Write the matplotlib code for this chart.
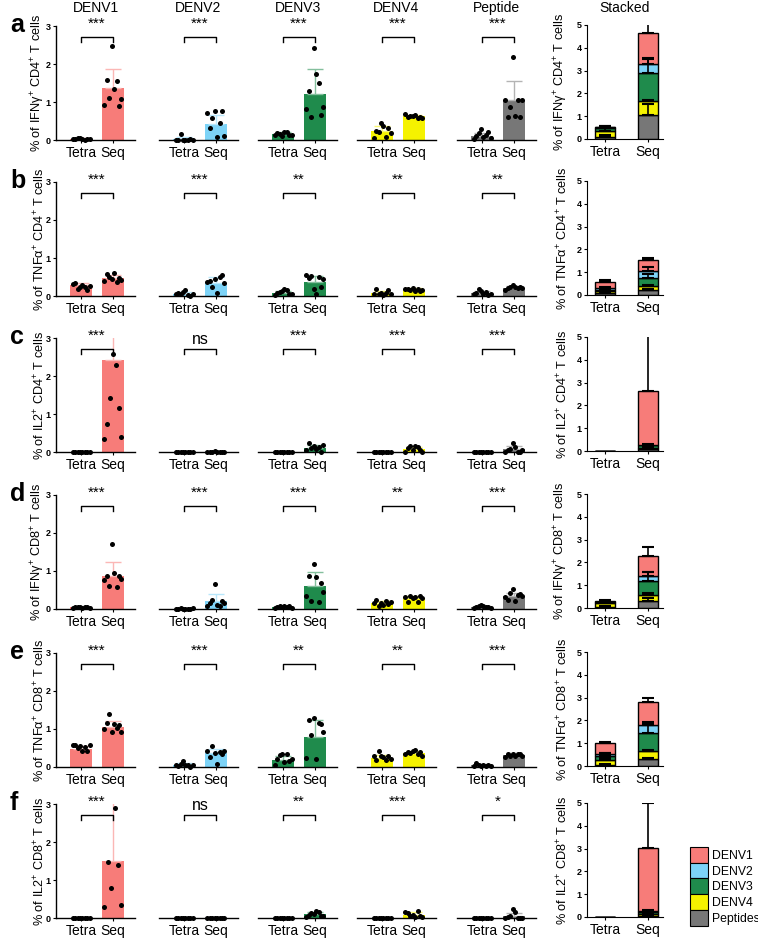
import numpy as np
import matplotlib.pyplot as plt
import matplotlib.colors as mcolors
from matplotlib.patches import Patch

plt.rcParams['font.family'] = ['Liberation Sans', 'DejaVu Sans']
plt.rcParams['mathtext.fontset'] = 'custom'
plt.rcParams['mathtext.rm'] = 'Liberation Sans'
plt.rcParams['mathtext.it'] = 'Liberation Sans:italic'

groups = ['DENV1', 'DENV2', 'DENV3', 'DENV4', 'Peptide']
legend_labels = ['DENV1', 'DENV2', 'DENV3', 'DENV4', 'Peptides']
conds = ['Tetra', 'Seq']
colors = ['#f77c79', '#7dd3f7', '#1f8b4c', '#f5f200', '#777777']

row_letters = ['a', 'b', 'c', 'd', 'e', 'f']
ylabels = [
    '% of IFNγ$^{+}$ CD4$^{+}$ T cells',
    '% of TNFα$^{+}$ CD4$^{+}$ T cells',
    '% of IL2$^{+}$ CD4$^{+}$ T cells',
    '% of IFNγ$^{+}$ CD8$^{+}$ T cells',
    '% of TNFα$^{+}$ CD8$^{+}$ T cells',
    '% of IL2$^{+}$ CD8$^{+}$ T cells',
]
sig = [
    ['***', '***', '***', '***', '***'],
    ['***', '***', '**', '**', '**'],
    ['***', 'ns', '***', '***', '***'],
    ['***', '***', '***', '**', '***'],
    ['***', '***', '**', '**', '***'],
    ['***', 'ns', '**', '***', '*'],
]

# bar means / SD per row, group order DENV1..Peptide
tetra_mean = [
    [0.02, 0.03, 0.15, 0.24, 0.10],
    [0.28, 0.06, 0.08, 0.08, 0.08],
    [0.0, 0.0, 0.0, 0.0, 0.0],
    [0.04, 0.01, 0.05, 0.16, 0.05],
    [0.47, 0.06, 0.18, 0.24, 0.04],
    [0.0, 0.01, 0.0, 0.0, 0.0],
]
tetra_sd = [
    [0.02, 0.05, 0.05, 0.14, 0.09],
    [0.06, 0.05, 0.06, 0.06, 0.06],
    [0.0, 0.0, 0.0, 0.0, 0.0],
    [0.02, 0.01, 0.03, 0.05, 0.03],
    [0.07, 0.04, 0.12, 0.08, 0.03],
    [0.0, 0.005, 0.0, 0.0, 0.0],
]
seq_mean = [
    [1.36, 0.42, 1.21, 0.62, 1.05],
    [0.47, 0.34, 0.36, 0.16, 0.22],
    [2.43, 0.01, 0.11, 0.07, 0.07],
    [0.88, 0.21, 0.61, 0.28, 0.33],
    [1.05, 0.36, 0.80, 0.37, 0.31],
    [1.49, 0.01, 0.10, 0.08, 0.06],
]
seq_sd = [
    [0.51, 0.24, 0.65, 0.05, 0.50],
    [0.08, 0.15, 0.17, 0.04, 0.05],
    [3.40, 0.005, 0.07, 0.06, 0.08],
    [0.37, 0.18, 0.36, 0.06, 0.10],
    [0.17, 0.11, 0.44, 0.05, 0.05],
    [2.00, 0.005, 0.06, 0.07, 0.08],
]

# stacked panel segment heights (DENV1..Peptide)
stack_tetra = [
    [0.02, 0.03, 0.15, 0.24, 0.10],
    [0.28, 0.06, 0.08, 0.08, 0.08],
    [0.0, 0.0, 0.0, 0.0, 0.0],
    [0.04, 0.01, 0.05, 0.16, 0.05],
    [0.47, 0.06, 0.18, 0.24, 0.04],
    [0.0, 0.0, 0.0, 0.0, 0.0],
]
stack_seq = [
    [1.36, 0.42, 1.21, 0.62, 1.05],
    [0.48, 0.33, 0.36, 0.16, 0.22],
    [2.38, 0.01, 0.11, 0.07, 0.07],
    [0.88, 0.21, 0.62, 0.26, 0.32],
    [1.00, 0.36, 0.80, 0.35, 0.30],
    [2.76, 0.01, 0.10, 0.08, 0.06],
]

# individual points
pts_a_tetra = [[0.03, 0.02, 0.05, 0.04, 0.02, 0.01, 0.02, 0.03],
               [0.0, 0.01, 0.15, 0.01, 0.0, 0.01, 0.02, 0.0],
               [0.12, 0.18, 0.15, 0.10, 0.20, 0.22, 0.14, 0.13],
               [0.04, 0.25, 0.20, 0.44, 0.37, 0.09, 0.31, 0.18],
               [0.02, 0.10, 0.18, 0.28, 0.09, 0.13, 0.22, 0.04]]
pts_a_seq = [[0.92, 1.58, 1.10, 2.47, 1.33, 1.54, 0.90, 1.08],
             [0.70, 0.31, 0.57, 0.76, 0.09, 0.44, 0.76, 0.11],
             [0.81, 1.30, 0.61, 2.41, 1.75, 1.51, 0.66, 0.88],
             [0.68, 0.60, 0.64, 0.62, 0.66, 0.57, 0.60, 0.58],
             [1.04, 0.61, 0.88, 2.18, 0.62, 1.06, 0.60, 1.05]]
pts_b_tetra = [[0.31, 0.33, 0.19, 0.25, 0.28, 0.24, 0.17, 0.26],
               [0.04, 0.08, 0.06, 0.11, 0.17, 0.02, 0.0, 0.04],
               [0.02, 0.08, 0.11, 0.13, 0.19, 0.17, 0.06, 0.04],
               [0.06, 0.19, 0.04, 0.09, 0.02, 0.08, 0.15, 0.04],
               [0.04, 0.08, 0.19, 0.13, 0.06, 0.11, 0.02, 0.04]]
pts_b_seq = [[0.39, 0.57, 0.50, 0.46, 0.61, 0.37, 0.48, 0.41],
             [0.37, 0.39, 0.25, 0.46, 0.09, 0.50, 0.56, 0.34],
             [0.54, 0.48, 0.52, 0.19, 0.06, 0.50, 0.24, 0.46],
             [0.18, 0.19, 0.15, 0.20, 0.13, 0.18, 0.12, 0.16],
             [0.17, 0.21, 0.24, 0.28, 0.25, 0.21, 0.24, 0.22]]
pts_c_tetra = [[0.0] * 8, [0.0] * 8, [0.0] * 8, [0.0] * 8, [0.0] * 8]
pts_c_seq = [[0.33, 0.75, 1.41, 2.57, 2.30, 1.15, 0.40],
             [0.01, 0.0, 0.01, 0.02, 0.01, 0.0, 0.01, 0.0],
             [0.04, 0.25, 0.10, 0.16, 0.07, 0.14, 0.01, 0.18],
             [0.01, 0.10, 0.16, 0.04, 0.16, 0.12, 0.05, 0.01],
             [0.01, 0.04, 0.07, 0.25, 0.14, 0.01, 0.01, 0.04]]
pts_d_tetra = [[0.03, 0.05, 0.04, 0.06, 0.03, 0.04, 0.05, 0.03],
               [0.01, 0.0, 0.02, 0.01, 0.01, 0.0, 0.01, 0.02],
               [0.03, 0.06, 0.08, 0.05, 0.09, 0.04, 0.07, 0.03],
               [0.17, 0.23, 0.07, 0.16, 0.11, 0.20, 0.14, 0.18],
               [0.03, 0.05, 0.07, 0.11, 0.08, 0.04, 0.05, 0.02]]
pts_d_seq = [[0.77, 0.87, 0.60, 1.71, 0.96, 0.58, 0.86, 0.79],
             [0.09, 0.16, 0.23, 0.66, 0.11, 0.07, 0.22, 0.17],
             [0.35, 0.87, 0.20, 1.18, 0.84, 0.18, 0.68, 0.46],
             [0.31, 0.18, 0.33, 0.29, 0.31, 0.18, 0.33, 0.29],
             [0.31, 0.24, 0.42, 0.52, 0.20, 0.38, 0.40, 0.33]]
pts_e_tetra = [[0.59, 0.57, 0.49, 0.56, 0.41, 0.53, 0.41, 0.59],
               [0.04, 0.03, 0.09, 0.15, 0.06, 0.04, 0.0, 0.06],
               [0.04, 0.22, 0.31, 0.33, 0.13, 0.35, 0.15, 0.20],
               [0.30, 0.19, 0.42, 0.28, 0.26, 0.18, 0.30, 0.21],
               [0.02, 0.11, 0.04, 0.02, 0.05, 0.03, 0.04, 0.02]]
pts_e_seq = [[1.01, 1.15, 1.39, 0.93, 1.12, 1.03, 1.10, 0.91],
             [0.41, 0.26, 0.56, 0.38, 0.09, 0.40, 0.35, 0.41],
             [0.24, 1.25, 0.84, 1.28, 0.22, 1.15, 1.12, 0.93],
             [0.33, 0.39, 0.37, 0.42, 0.44, 0.35, 0.39, 0.30],
             [0.26, 0.33, 0.30, 0.35, 0.28, 0.33, 0.35, 0.30]]
pts_f_tetra = [[0.0] * 8,
               [0.01, 0.0, 0.01, 0.01, 0.0, 0.01, 0.01, 0.0],
               [0.0] * 8, [0.0] * 8, [0.0] * 8]
pts_f_seq = [[0.30, 1.47, 0.79, 2.89, 1.40, 0.35],
             [0.01, 0.0, 0.01, 0.0, 0.01, 0.01, 0.0, 0.01],
             [0.02, 0.08, 0.12, 0.10, 0.19, 0.15, 0.04, 0.06],
             [0.15, 0.13, 0.04, 0.08, 0.02, 0.19, 0.06, 0.02],
             [0.0, 0.02, 0.06, 0.24, 0.15, 0.0, 0.01, 0.0]]

pts_tetra = [pts_a_tetra, pts_b_tetra, pts_c_tetra, pts_d_tetra, pts_e_tetra, pts_f_tetra]
pts_seq = [pts_a_seq, pts_b_seq, pts_c_seq, pts_d_seq, pts_e_seq, pts_f_seq]

W, H = 758, 939
fig = plt.figure(figsize=(W / 100, H / 100), dpi=100)


def px_axes(left, top, width, height):
    return fig.add_axes([left / W, 1 - (top + height) / H, width / W, height / H])


def lighten(c, amt=0.45):
    r, g, b = mcolors.to_rgb(c)
    return (r + (1 - r) * amt, g + (1 - g) * amt, b + (1 - b) * amt)


col_left = [56, 159, 258, 357, 457]
col_w = 79
stack_left, stack_w = 587, 76
row_top = [26, 182, 338, 495, 653, 804]
row_h = 114

for r in range(6):
    for g in range(5):
        ax = px_axes(col_left[g], row_top[r], col_w, row_h)
        means = [tetra_mean[r][g], seq_mean[r][g]]
        sds = [tetra_sd[r][g], seq_sd[r][g]]
        ax.bar([0, 1], means, width=0.7, color=colors[g], zorder=1)
        ax.errorbar([0, 1], means, yerr=[[0, 0], sds], fmt='none',
                    ecolor=lighten(colors[g]), elinewidth=1, capsize=6,
                    capthick=1, zorder=2)
        for xi, vals in enumerate([pts_tetra[r][g], pts_seq[r][g]]):
            offs = np.linspace(-0.27, 0.27, len(vals))
            ax.scatter(xi + offs, vals, s=13, color='black', zorder=3,
                       clip_on=False, linewidths=0)
        ax.set_xlim(-0.8, 1.7)
        ax.set_ylim(0, 3)
        ax.set_xticks([0, 1])
        ax.set_xticklabels(conds, fontsize=10)
        ax.tick_params(axis='x', length=2.5, width=0.8, pad=1.5)
        for s in ['top', 'right']:
            ax.spines[s].set_visible(False)
        ax.spines['bottom'].set_linewidth(1.0)
        if g == 0:
            ax.set_yticks([0, 1, 2, 3])
            ax.set_yticklabels(['0', '1', '2', '3'], fontsize=6.5, fontweight='bold')
            ax.tick_params(axis='y', length=2.5, width=0.8, pad=1.5)
            ax.spines['left'].set_linewidth(1.0)
            ax.set_ylabel(ylabels[r], fontsize=9.2)
            ax.yaxis.set_label_coords(-0.115, 0.5)
        else:
            ax.set_yticks([])
            ax.spines['left'].set_visible(False)

        # significance bracket
        ax.plot([0, 0, 1, 1], [2.58, 2.71, 2.71, 2.58], color='black', lw=1,
                clip_on=False)
        if sig[r][g] == 'ns':
            ax.text(0.5, 2.97, 'ns', ha='center', va='center', fontsize=11.5,
                    clip_on=False)
        else:
            ax.text(0.5, 3.05, sig[r][g], ha='center', va='center', fontsize=11,
                    clip_on=False)
        if r == 0:
            ax.text(0.5, 1 + (row_top[0] - 8) / row_h, groups[g],
                    transform=ax.transAxes, ha='center', va='center', fontsize=10)

    # stacked panel
    ax = px_axes(stack_left, row_top[r] - 1, stack_w, row_h)
    xs = [0, 1]
    for xi, (heights, sds) in enumerate([(stack_tetra[r], tetra_sd[r]),
                                         (stack_seq[r], seq_sd[r])]):
        bottom = 0.0
        for g in [4, 3, 2, 1, 0]:
            h = heights[g]
            ax.bar(xs[xi], h, bottom=bottom, width=0.47, color=colors[g],
                   edgecolor='black', linewidth=1, zorder=1)
            top = bottom + h
            if sds[g] > 0.0 and h > 0:
                ax.errorbar(xs[xi], top, yerr=[[0], [sds[g]]], fmt='none',
                            ecolor='black', elinewidth=1.2, capsize=4.3,
                            capthick=1.5, zorder=2)
            bottom = top
    ax.set_xlim(-0.42, 1.35)
    ax.set_ylim(0, 5)
    ax.set_xticks([0, 1])
    ax.set_xticklabels(conds, fontsize=10)
    ax.tick_params(axis='x', length=2.5, width=0.8, pad=1.5)
    ax.set_yticks([0, 1, 2, 3, 4, 5])
    ax.set_yticklabels([str(v) for v in range(6)], fontsize=6.5, fontweight='bold')
    ax.tick_params(axis='y', length=2.5, width=0.8, pad=1.5)
    for s in ['top', 'right']:
        ax.spines[s].set_visible(False)
    ax.set_ylabel(ylabels[r], fontsize=9.2)
    ax.yaxis.set_label_coords(-0.22, 0.5)
    if r == 0:
        ax.text(0.5, 1 + (row_top[0] - 1 - 8) / row_h, 'Stacked',
                transform=ax.transAxes, ha='center', va='center', fontsize=10)

    fig.text(10 / W, 1 - (row_top[r] - 1) / H, row_letters[r], fontsize=18,
             fontweight='bold', ha='left', va='center')

handles = [Patch(facecolor=colors[i], edgecolor='black', linewidth=0.8,
                 label=legend_labels[i]) for i in range(5)]
fig.legend(handles=handles, loc='upper left', bbox_to_anchor=(690 / W, 1 - 847 / H),
           frameon=False, fontsize=8.8, handlelength=1.5, handleheight=1.6,
           labelspacing=0.0, handletextpad=0.3, borderpad=0, borderaxespad=0)

fig.savefig('out.png', dpi=100)
